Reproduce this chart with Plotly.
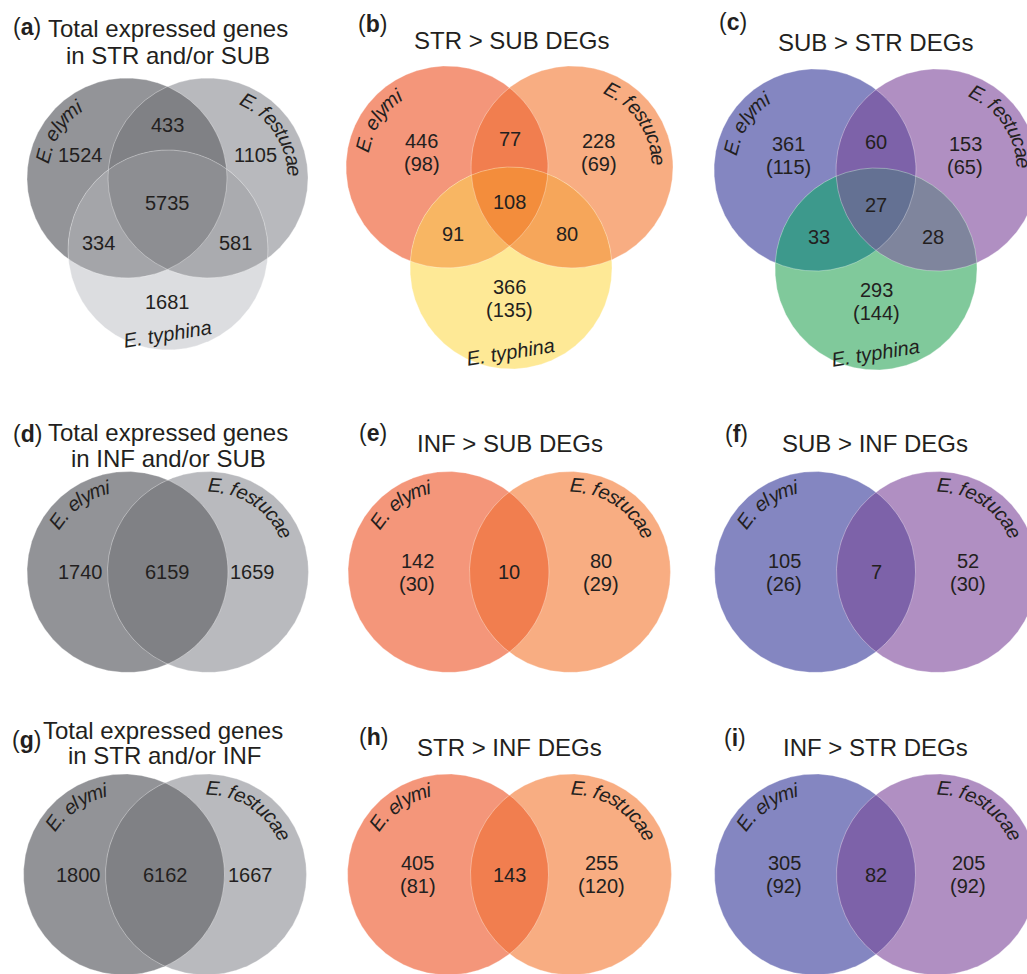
import numpy as np
import plotly.graph_objects as go

# ---------------- data ----------------
species = ["E. elymi", "E. festucae", "E. typhina"]

panel_letters = ["a", "b", "c", "d", "e", "f", "g", "h", "i"]
panel_titles = [
    ["Total expressed genes", "in STR and/or SUB"],
    ["STR > SUB DEGs"],
    ["SUB > STR DEGs"],
    ["Total expressed genes", "in INF and/or SUB"],
    ["INF > SUB DEGs"],
    ["SUB > INF DEGs"],
    ["Total expressed genes", "in STR and/or INF"],
    ["STR > INF DEGs"],
    ["INF > STR DEGs"],
]

# three-way counts: elymi only, festucae only, typhina only,
# elymi&festucae, elymi&typhina, festucae&typhina, all three
counts_a = [1524, 1105, 1681, 433, 334, 581, 5735]
counts_b = [446, 228, 366, 77, 91, 80, 108]
unique_b = [98, 69, 135]
counts_c = [361, 153, 293, 60, 33, 28, 27]
unique_c = [115, 65, 144]

# two-way counts: elymi only, festucae only, shared
counts_d = [1740, 1659, 6159]
counts_e = [142, 80, 10]
unique_e = [30, 29]
counts_f = [105, 52, 7]
unique_f = [26, 30]
counts_g = [1800, 1667, 6162]
counts_h = [405, 255, 143]
unique_h = [81, 120]
counts_i = [305, 205, 82]
unique_i = [92, 92]

# ---------------- styling ----------------
W, H = 1027, 974
FONT = "Liberation Sans, Arial, Helvetica, sans-serif"
INK = "#231f20"
NUM_SIZE = 20
SPECIES_SIZE = 20
TITLE_SIZE = 24
LETTER_SIZE = 23

gray3 = dict(L="#939498", R="#b8b9bd", B="#dcdde0", LR="#808185",
             LB="#a4a5a9", RB="#aaabaf", LRB="#8d8e92")
orange3 = dict(L="#f4967a", R="#f8ad82", B="#fee996", LR="#f17e4f",
               LB="#f8b663", RB="#f6a65a", LRB="#f38d3c")
purple3 = dict(L="#8486c1", R="#b08fc2", B="#80c99b", LR="#7d62a9",
               LB="#3d998c", RB="#7f859d", LRB="#647193")
gray2 = dict(L="#929397", R="#b9babe", LR="#808185")
orange2 = dict(L="#f4967a", R="#f8ad82", LR="#f17e4f")
purple2 = dict(L="#8486c1", R="#b08fc2", LR="#7d62a9")

# circle layout per panel (pixel space)
geo = {
    "a": dict(L=(127, 178), R=(208, 178), B=(168, 250), r=100),
    "b": dict(L=(447, 167), R=(572, 167), B=(511, 268), r=101),
    "c": dict(L=(815, 170), R=(937, 170), B=(876, 269), r=101),
    "d": dict(L=(127.5, 572), R=(208, 572), r=100.5),
    "e": dict(L=(448.5, 572), R=(570, 572), r=100.5),
    "f": dict(L=(815, 572), R=(937, 572), r=100.5),
    "g": dict(L=(124, 874.5), R=(206, 874.5), r=100.5),
    "h": dict(L=(448, 874.5), R=(571, 874.5), r=100.5),
    "i": dict(L=(815, 874.5), R=(937, 874.5), r=100.5),
}

# count label offsets from the midpoint of the two upper circle centres
off3_gray = dict(L=(-87, -23), R=(88, -23), B=(0, 124), LR=(0, -53),
                 LB=(-69, 65), RB=(68, 65), LRB=(0, 25))
off3_col = dict(L=(-88, -15), R=(89, -15), B=(0, 131), LR=(0, -28),
                LB=(-57, 67), RB=(57, 67), LRB=(0, 35))
off2_gray = dict(L=(-87, 0), R=(85, 0), LR=(0, 0))
off2_col = dict(L=(-92, 0), R=(92, 0), LR=(0, 0))

# title positions: letter (x, y), title line centres
title_pos = {
    "a": dict(letter=(27, 27), lines=[(168, 28), (168, 55)]),
    "b": dict(letter=(372, 24), lines=[(511, 40)]),
    "c": dict(letter=(733, 22), lines=[(875, 42)]),
    "d": dict(letter=(27, 434), lines=[(168, 432), (168, 458)]),
    "e": dict(letter=(373, 433), lines=[(510, 443)]),
    "f": dict(letter=(736, 434), lines=[(875, 443)]),
    "g": dict(letter=(26, 740), lines=[(163, 730), (164, 755)]),
    "h": dict(letter=(373, 737), lines=[(509, 747)]),
    "i": dict(letter=(735, 738), lines=[(875, 747)]),
}

CHAR_W = {"E": 667, ".": 278, " ": 278, "e": 556, "l": 222, "y": 500, "m": 833,
          "i": 222, "f": 278, "s": 500, "t": 278, "u": 556, "c": 500, "a": 556,
          "p": 556, "h": 556, "n": 556}

fig = go.Figure()
annotations = []

N = 1441
T = np.linspace(0, 2 * np.pi, N)


def circle_pts(c, r):
    return c[0] + r * np.cos(T), c[1] + r * np.sin(T)


def inside(x, y, c, r):
    return (x - c[0]) ** 2 + (y - c[1]) ** 2 <= r * r + 1e-6


def convex_region(circles):
    """Boundary of the intersection of the given circles."""
    xs, ys = [], []
    for k, (c, r) in enumerate(circles):
        x, y = circle_pts(c, r)
        m = np.ones_like(x, dtype=bool)
        for j, (c2, r2) in enumerate(circles):
            if j != k:
                m &= inside(x, y, c2, r2)
        xs.append(x[m])
        ys.append(y[m])
    x = np.concatenate(xs)
    y = np.concatenate(ys)
    cx, cy = x.mean(), y.mean()
    order = np.argsort(np.arctan2(y - cy, x - cx))
    x, y = x[order], y[order]
    return np.append(x, x[0]), np.append(y, y[0])


def fill(x, y, color):
    fig.add_trace(go.Scatter(x=x, y=y, mode="lines", fill="toself",
                             fillcolor=color, line=dict(width=0),
                             hoverinfo="skip", showlegend=False))


def outline(c, r):
    x, y = circle_pts(c, r)
    fig.add_trace(go.Scatter(x=x, y=y, mode="lines",
                             line=dict(width=0.8, color="rgba(255,255,255,0.4)"),
                             hoverinfo="skip", showlegend=False))


def text(x, y, s, size=NUM_SIZE, angle=0):
    annotations.append(dict(x=x, y=y, text=s, showarrow=False, textangle=angle,
                            xanchor="center", yanchor="middle",
                            font=dict(family=FONT, size=size, color=INK)))


def arc_text(c, rm, mid_deg, s, size=SPECIES_SIZE):
    ws = [CHAR_W.get(ch, 556) * size / 1000 for ch in s]
    th0 = np.deg2rad(mid_deg) - sum(ws) / 2 / rm
    pos = 0.0
    for ch, w in zip(s, ws):
        th = th0 + (pos + w / 2) / rm
        pos += w
        if ch == " ":
            continue
        text(c[0] + rm * np.cos(th), c[1] + rm * np.sin(th), f"<i>{ch}</i>",
             size=size, angle=np.rad2deg(th) + 90)


def count_label(x, y, main, extra=None):
    if extra is None:
        text(x, y, str(main))
    else:
        text(x, y - 11.5, str(main))
        text(x, y + 11.5, f"({extra})")


def venn3(key, counts, uniques, pal, offs):
    g = geo[key]
    r = g["r"]
    L, R, B = g["L"], g["R"], g["B"]
    for k, c in (("L", L), ("R", R), ("B", B)):
        fill(*circle_pts(c, r), pal[k])
    fill(*convex_region([(L, r), (R, r)]), pal["LR"])
    fill(*convex_region([(L, r), (B, r)]), pal["LB"])
    fill(*convex_region([(R, r), (B, r)]), pal["RB"])
    fill(*convex_region([(L, r), (R, r), (B, r)]), pal["LRB"])
    for c in (L, R, B):
        outline(c, r)
    mx, my = (L[0] + R[0]) / 2, L[1]
    keys = ["L", "R", "B", "LR", "LB", "RB", "LRB"]
    for i, k in enumerate(keys):
        ex = uniques[i] if (uniques is not None and i < 3) else None
        dx, dy = offs[k]
        count_label(mx + dx, my + dy, counts[i], ex)
    arc_text(L, 87, 214, species[0])
    arc_text(R, 87, 326, species[1])
    text(B[0] - 1, B[1] + 84, f"<i>{species[2]}</i>", size=SPECIES_SIZE, angle=-9)


def venn2(key, counts, uniques, pal, offs):
    g = geo[key]
    r = g["r"]
    L, R = g["L"], g["R"]
    fill(*circle_pts(L, r), pal["L"])
    fill(*circle_pts(R, r), pal["R"])
    fill(*convex_region([(L, r), (R, r)]), pal["LR"])
    outline(L, r)
    outline(R, r)
    mx, my = (L[0] + R[0]) / 2, L[1]
    for i, k in enumerate(["L", "R", "LR"]):
        ex = uniques[i] if (uniques is not None and i < 2) else None
        dx, dy = offs[k]
        count_label(mx + dx, my + dy, counts[i], ex)
    arc_text(L, 87, 235, species[0])
    arc_text(R, 87, 303, species[1])


venn3("a", counts_a, None, gray3, off3_gray)
venn3("b", counts_b, unique_b, orange3, off3_col)
venn3("c", counts_c, unique_c, purple3, off3_col)
venn2("d", counts_d, None, gray2, off2_gray)
venn2("e", counts_e, unique_e, orange2, off2_col)
venn2("f", counts_f, unique_f, purple2, off2_col)
venn2("g", counts_g, None, gray2, off2_gray)
venn2("h", counts_h, unique_h, orange2, off2_col)
venn2("i", counts_i, unique_i, purple2, off2_col)

# panel letters and titles
for key, lines in zip(panel_letters, panel_titles):
    tp = title_pos[key]
    text(tp["letter"][0], tp["letter"][1], f"(<b>{key}</b>)", size=LETTER_SIZE)
    for (x, y), line in zip(tp["lines"], lines):
        text(x, y, line, size=TITLE_SIZE)

fig.update_layout(
    width=W, height=H, autosize=False,
    margin=dict(l=0, r=0, t=0, b=0),
    paper_bgcolor="white", plot_bgcolor="white",
    showlegend=False,
    xaxis=dict(range=[0, W], visible=False, fixedrange=True),
    yaxis=dict(range=[H, 0], visible=False, fixedrange=True),
    annotations=annotations,
)

fig.write_html("out.html")
